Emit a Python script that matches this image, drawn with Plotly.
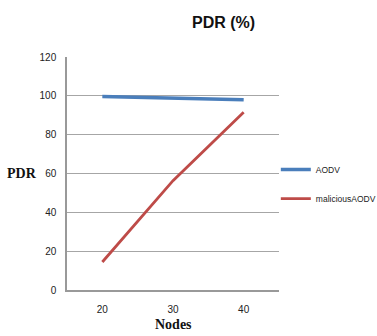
import plotly.graph_objects as go

nodes = ["20", "30", "40"]
aodv = [99.6, 98.6, 98.0]
malicious_aodv = [14.4, 56.3, 91.5]
y_ticks = [0, 20, 40, 60, 80, 100, 120]

fig = go.Figure()
fig.add_trace(go.Scatter(x=nodes, y=aodv, mode="lines", name="AODV", showlegend=True,
                         line=dict(color="#4a7ebb", width=3.5), legend="legend"))
fig.add_trace(go.Scatter(x=nodes, y=malicious_aodv, mode="lines", name="maliciousAODV", showlegend=True,
                         line=dict(color="#be4b48", width=2.8), legend="legend2"))

tick_font = dict(family="Liberation Sans, Arial, sans-serif", size=10, color="#222")
leg_font = dict(family="Liberation Sans, Arial, sans-serif", size=8.5, color="#222")
fig.update_layout(
    width=377, height=336,
    showlegend=True,
    margin=dict(l=67, r=98, t=57, b=46, autoexpand=False),
    paper_bgcolor="white", plot_bgcolor="white",
    xaxis=dict(type="category", range=[-0.5, 2.5], showgrid=False, showline=True, linecolor="#999",
               linewidth=1.5, ticks="", tickfont=tick_font, ticklabelstandoff=9),
    yaxis=dict(range=[0, 120], tickvals=y_ticks, showgrid=True, gridcolor="#a6a6a6", gridwidth=1,
               showline=True, linecolor="#999", linewidth=1.5, zeroline=False,
               ticks="", tickfont=tick_font, ticklabelstandoff=7),
    legend=dict(visible=True, x=0.985, y=0.517, xanchor="left", yanchor="middle", font=leg_font,
                itemwidth=30, bgcolor="rgba(0,0,0,0)"),
    legend2=dict(visible=True, x=0.985, y=0.392, xanchor="left", yanchor="middle", font=leg_font,
                 itemwidth=30, bgcolor="rgba(0,0,0,0)"),
    annotations=[
        dict(text="<b>PDR (%)</b>", x=0.74, y=1.15, xref="paper", yref="paper", showarrow=False,
             xanchor="center", yanchor="middle",
             font=dict(family="Liberation Sans, Arial, sans-serif", size=16, color="#111")),
        dict(text="<b>PDR</b>", x=-0.212, y=0.5, xref="paper", yref="paper", showarrow=False,
             xanchor="center", yanchor="middle",
             font=dict(family="Liberation Serif, Times New Roman, serif", size=14, color="#111")),
        dict(text="<b>Nodes</b>", x=0.5, y=-0.148, xref="paper", yref="paper", showarrow=False,
             xanchor="center", yanchor="middle",
             font=dict(family="Liberation Serif, Times New Roman, serif", size=14, color="#111")),
    ],
)
fig.write_html("out.html")
